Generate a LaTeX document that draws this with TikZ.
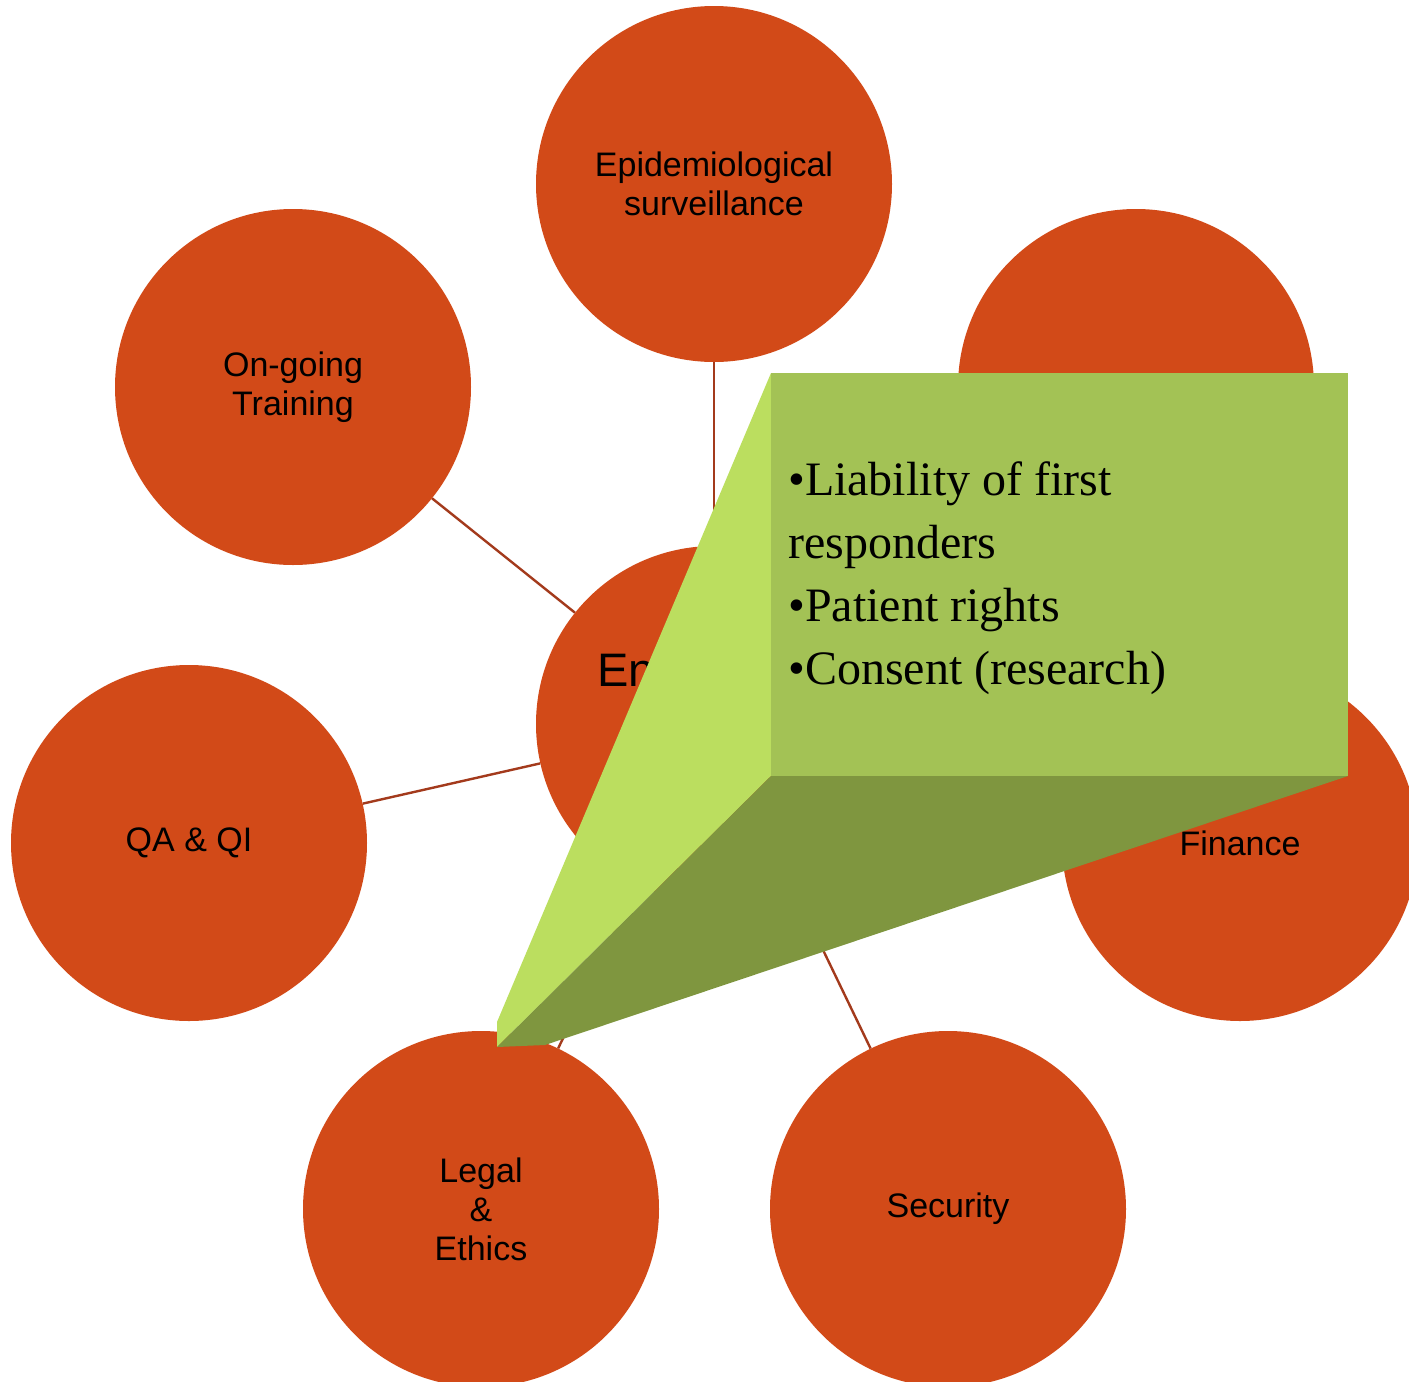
\documentclass[tikz,border=0pt]{standalone}
\usepackage{fontspec}
\setmainfont{Liberation Serif}
\newfontfamily\arialf{Liberation Sans}
\definecolor{bubblecol}{HTML}{D24A18}
\definecolor{linkcol}{HTML}{A33A1C}
\definecolor{frontcol}{HTML}{A3C255}
\definecolor{leftcol}{HTML}{BBDE5F}
\definecolor{bottomcol}{HTML}{7F963F}
\begin{document}
\begin{tikzpicture}[x=1pt,y=-1pt,
  bubble/.style={circle, fill=bubblecol, minimum size=356pt, inner sep=0pt,
    align=center, text=black, font=\arialf\fontsize{34}{39}\selectfont},
  link/.style={draw=linkcol, line width=2.4pt},
  calltext/.style={anchor=base west, align=left, inner sep=0pt,
    font=\fontsize{48}{63}\selectfont, text=black}]
\useasboundingbox (0,0) rectangle (1409,1382);
\clip (0,0) rectangle (1409,1382);

\node[bubble] (epi) at (714,184) {Epidemiological\\surveillance};
\node[bubble] (train) at (293,387) {On-going\\Training};
\node[bubble] (tr) at (1136,387) {};
\node[bubble] (qa) at (189,843) {QA \& QI};
\node[bubble] (fin) at (1240,843) {Finance};
\node[bubble] (legal) at (481,1209) {Legal\\\&\\Ethics};
\node[bubble] (sec) at (948,1209) {Security};
\node[bubble] (ctr) at (714,724) {};
\node[anchor=base west, inner sep=0pt, font=\arialf\fontsize{47}{50}\selectfont] (ctext) at (597,686) {En};

\draw[link] (ctr) -- (epi);
\draw[link] (ctr) -- (train);
\draw[link] (ctr) -- (tr);
\draw[link] (ctr) -- (qa);
\draw[link] (ctr) -- (fin);
\draw[link] (ctr) -- (legal);
\draw[link] (ctr) -- (sec);

% 3D callout
\fill[leftcol] (771,373) -- (497,1022) -- (497,1047) -- (771,776) -- cycle;
\fill[bottomcol] (771,776) -- (1348,776) -- (545,1045) -- (497,1047) -- cycle;
\fill[frontcol] (771,373) rectangle (1348,776);
\node[calltext] (note) at (788,684) {\textbullet Liability of first\\responders\\\textbullet Patient rights\\\textbullet Consent (research)};
\end{tikzpicture}
\end{document}
